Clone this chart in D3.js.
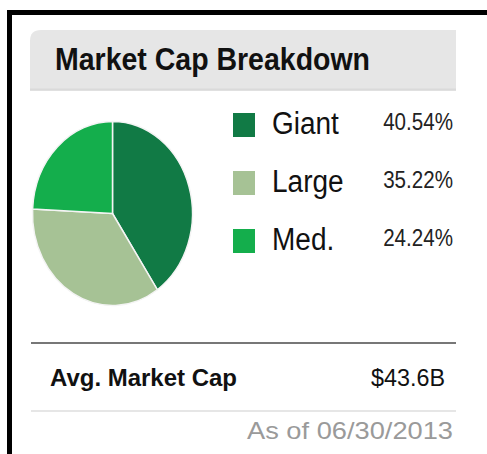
<!DOCTYPE html>
<html>
<head>
<meta charset="utf-8">
<script src="https://cdn.jsdelivr.net/npm/d3@7"></script>
<style>
  body { margin: 0; background: #fff; }
  svg { display: block; font-family: Arial, "Liberation Sans", sans-serif; }
</style>
</head>
<body>
<div id="chart"></div>
<script>
// Data
const categories = ["Giant", "Large", "Med."];
const shares = [40.54, 35.22, 24.24];
const shareLabels = ["40.54%", "35.22%", "24.24%"];
const title = "Market Cap Breakdown";
const avgLabel = "Avg. Market Cap";
const avgValue = "$43.6B";
const asOf = "As of 06/30/2013";

const palette = ["#117a45", "#a6c295", "#14ae4c"];

const width = 487, height = 454;

const svg = d3.select("#chart").append("svg")
    .attr("width", width)
    .attr("height", height);

// black frame (top + left edges only visible)
svg.append("rect").attr("x", 7).attr("y", 10).attr("width", width - 7).attr("height", 5).attr("fill", "#000");
svg.append("rect").attr("x", 7).attr("y", 10).attr("width", 5).attr("height", height - 10).attr("fill", "#000");

// header bar with rounded top-left corner
const hx = 30, hy = 30, hw = 426, hh = 61, r = 11;
svg.append("path")
    .attr("d", `M${hx},${hy + hh} L${hx},${hy + r} Q${hx},${hy} ${hx + r},${hy} L${hx + hw},${hy} L${hx + hw},${hy + hh} Z`)
    .attr("fill", "#e6e6e6");
svg.append("line")
    .attr("x1", hx).attr("x2", hx + hw).attr("y1", hy + hh - 1.5).attr("y2", hy + hh - 1.5)
    .attr("stroke", "#dadada").attr("stroke-width", 2);

function fit(sel, w) {
    return sel.attr("textLength", w).attr("lengthAdjust", "spacingAndGlyphs");
}

fit(svg.append("text")
    .attr("x", 55).attr("y", 70)
    .attr("font-size", 32).attr("font-weight", "bold").attr("fill", "#111")
    .text(title), 315);

// pie (stretched vertically like the reference)
const pie = d3.pie().sort(null).value(d => d)(shares);
const arc = d3.arc().innerRadius(0).outerRadius(80);
const pieG = svg.append("g")
    .attr("transform", "translate(112.5,213.5) scale(1,1.15)");
pieG.selectAll("path")
    .data(pie)
    .join("path")
    .attr("d", arc)
    .attr("fill", (d, i) => palette[i])
    .attr("stroke", "#f4f4f4")
    .attr("stroke-width", 1.5)
    .attr("vector-effect", "non-scaling-stroke");

// legend
const y = d3.scalePoint().domain(categories).range([134, 250]);
const leg = svg.append("g");
leg.selectAll("rect")
    .data(categories)
    .join("rect")
    .attr("x", 233)
    .attr("y", d => y(d) - 21)
    .attr("width", 22)
    .attr("height", 24)
    .attr("fill", (d, i) => palette[i]);

leg.selectAll("text.lab")
    .data(categories)
    .join("text")
    .attr("class", "lab")
    .attr("transform", d => `translate(272,${y(d)}) scale(1,1.1)`)
    .attr("font-size", 28)
    .attr("fill", "#111")
    .text(d => d);

leg.selectAll("text.pct")
    .data(categories)
    .join("text")
    .attr("class", "pct")
    .attr("transform", d => `translate(453,${y(d) - 4}) scale(1,1.15)`)
    .attr("text-anchor", "end")
    .attr("font-size", 20.6)
    .attr("fill", "#222")
    .text((d, i) => shareLabels[i]);

// footer
svg.append("line")
    .attr("x1", 31).attr("x2", 456).attr("y1", 343).attr("y2", 343)
    .attr("stroke", "#777").attr("stroke-width", 2);

fit(svg.append("text")
    .attr("x", 50).attr("y", 386)
    .attr("font-size", 23).attr("font-weight", "bold").attr("fill", "#111")
    .text(avgLabel), 187);

fit(svg.append("text")
    .attr("x", 371).attr("y", 386)
    .attr("font-size", 23).attr("fill", "#111")
    .text(avgValue), 74);

svg.append("line")
    .attr("x1", 31).attr("x2", 456).attr("y1", 411).attr("y2", 411)
    .attr("stroke", "#dedede").attr("stroke-width", 1.5);

fit(svg.append("text")
    .attr("x", 247).attr("y", 439)
    .attr("font-size", 24).attr("fill", "#9a9a9a")
    .text(asOf), 206);
</script>
</body>
</html>
